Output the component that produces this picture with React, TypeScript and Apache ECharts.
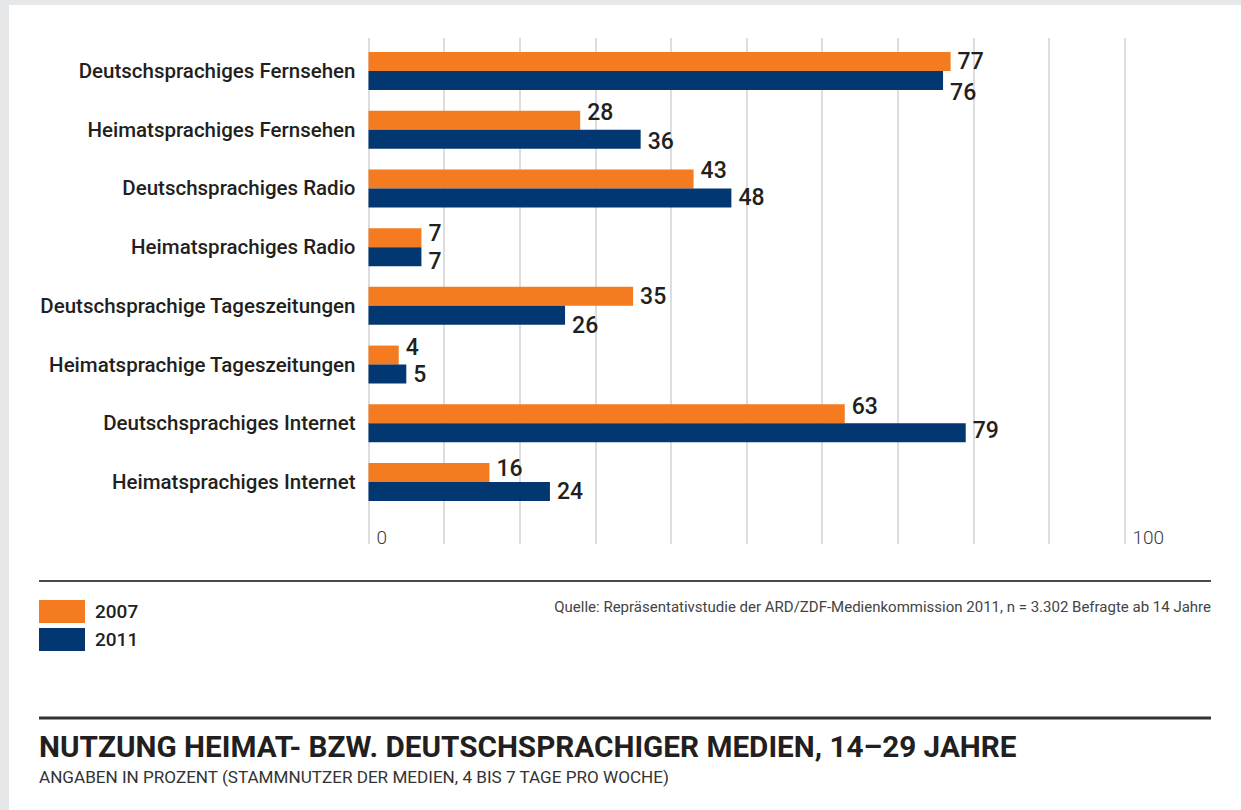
import React, { useEffect, useRef } from "react";
import * as echarts from "echarts";

const categories = [
  "Deutschsprachiges Fernsehen",
  "Heimatsprachiges Fernsehen",
  "Deutschsprachiges Radio",
  "Heimatsprachiges Radio",
  "Deutschsprachige Tageszeitungen",
  "Heimatsprachige Tageszeitungen",
  "Deutschsprachiges Internet",
  "Heimatsprachiges Internet",
];
const seriesNames = ["2007", "2011"];
const values2007 = [77, 28, 43, 7, 35, 4, 63, 16];
const values2011 = [76, 36, 48, 7, 26, 5, 79, 24];
const axisTickLabels = [0, 100];

// vertical nudges (px) of the value labels, as placed in the original
const nudge2007 = [0, -8, -8, -4, 0, -8, -7, -4];
const nudge2011 = [12, 2, 0, 5, 10, 0, -2, 0];

const TITLE = "NUTZUNG HEIMAT- BZW. DEUTSCHSPRACHIGER MEDIEN, 14–29 JAHRE";
const SUBTITLE = "ANGABEN IN PROZENT (STAMMNUTZER DER MEDIEN, 4 BIS 7 TAGE PRO WOCHE)";
const SOURCE =
  "Quelle: Repräsentativstudie der ARD/ZDF-Medienkommission 2011, n = 3.302 Befragte ab 14 Jahre";

const ORANGE = "#f47b20";
const NAVY = "#033772";
const INK = "#231f20";
const FONT = "Roboto, 'Noto Sans', sans-serif";

export default function App() {
  const ref = useRef<HTMLDivElement>(null);

  useEffect(() => {
    if (!ref.current) return;
    const chart = echarts.init(ref.current, undefined, { renderer: "svg" });

    const gridLeft = 368.5;
    const gridWidth = 756;

    const mkData = (vals: number[], nudges: number[]) =>
      vals.map((v, i) => ({ value: v, label: { offset: [0, nudges[i]] } }));

    const valueLabel = {
      show: true,
      position: "right",
      distance: 7,
      color: INK,
      fontFamily: FONT,
      fontSize: 23,
      lineHeight: 20,
      fontWeight: 500,
    };

    chart.setOption({
      animation: false,
      textStyle: { fontFamily: FONT },
      grid: [
        { left: gridLeft, width: gridWidth, top: 38, height: 506 },
        { left: gridLeft, width: gridWidth, top: 41.6, height: 469.8 },
      ],
      xAxis: [
        {
          gridIndex: 0,
          type: "value",
          min: 0,
          max: 100,
          interval: 10,
          axisLine: { show: false },
          axisTick: { show: false },
          splitLine: { show: true, lineStyle: { color: "#d2d2d2", width: 1.5 } },
          axisLabel: {
            inside: true,
            customValues: axisTickLabels,
            align: "left",
            margin: -3,
            padding: [0, 0, 0, 8],
            color: "#3a3a3a",
            fontSize: 19,
            fontFamily: FONT,
            fontWeight: 300,
          },
        },
        {
          gridIndex: 1,
          type: "value",
          min: 0,
          max: 100,
          show: false,
        },
      ],
      yAxis: [
        { gridIndex: 0, type: "value", show: false },
        {
          gridIndex: 1,
          type: "category",
          data: categories,
          inverse: true,
          axisLine: { show: false },
          axisTick: { show: false },
          splitLine: { show: false },
          axisLabel: {
            margin: 13,
            color: INK,
            fontFamily: FONT,
            fontSize: 20.5,
            fontWeight: 500,
          },
        },
      ],
      legend: {
        data: seriesNames,
        orient: "vertical",
        left: 39,
        top: 600,
        padding: 0,
        itemWidth: 46,
        itemHeight: 23,
        itemGap: 5,
        icon: "rect",
        textStyle: {
          color: INK,
          fontFamily: FONT,
          fontSize: 19,
          fontWeight: 500,
          padding: [8, 0, 0, 5],
        },
      },
      series: [
        {
          name: seriesNames[0],
          type: "bar",
          xAxisIndex: 1,
          yAxisIndex: 1,
          barWidth: 19,
          barGap: "0%",
          itemStyle: { color: ORANGE },
          label: valueLabel,
          data: mkData(values2007, nudge2007),
        },
        {
          name: seriesNames[1],
          type: "bar",
          xAxisIndex: 1,
          yAxisIndex: 1,
          barWidth: 19,
          barGap: "0%",
          itemStyle: { color: NAVY },
          label: valueLabel,
          data: mkData(values2011, nudge2011),
        },
      ],
      graphic: [
        {
          type: "line",
          shape: { x1: 39, y1: 581, x2: 1211, y2: 581 },
          style: { stroke: "#4a4a4a", lineWidth: 2 },
        },
        {
          type: "text",
          x: 1211,
          y: 607,
          style: {
            text: SOURCE,
            align: "right",
            verticalAlign: "middle",
            fill: "#444",
            fontFamily: FONT,
            fontSize: 15,
          },
        },
        {
          type: "line",
          shape: { x1: 39, y1: 718, x2: 1211, y2: 718 },
          style: { stroke: "#333", lineWidth: 3 },
        },
        {
          type: "text",
          x: 39,
          y: 746,
          style: {
            text: TITLE,
            align: "left",
            verticalAlign: "middle",
            fill: INK,
            fontFamily: FONT,
            fontSize: 29.7,
            fontWeight: "bold",
          },
        },
        {
          type: "text",
          x: 39,
          y: 777,
          style: {
            text: SUBTITLE,
            align: "left",
            verticalAlign: "middle",
            fill: "#333",
            fontFamily: FONT,
            fontSize: 17.1,
          },
        },
      ],
    });

    return () => chart.dispose();
  }, []);

  return (
    <div
      style={{
        position: "absolute",
        left: 0,
        top: 0,
        width: 1241,
        height: 810,
        background: "#e6e7e9",
        overflow: "hidden",
      }}
    >
      <div
        style={{
          position: "absolute",
          left: 9,
          top: 5,
          right: 0,
          bottom: 0,
          background: "#ffffff",
        }}
      />
      <div
        ref={ref}
        style={{ position: "absolute", left: 0, top: 0, width: 1241, height: 810 }}
      />
    </div>
  );
}
